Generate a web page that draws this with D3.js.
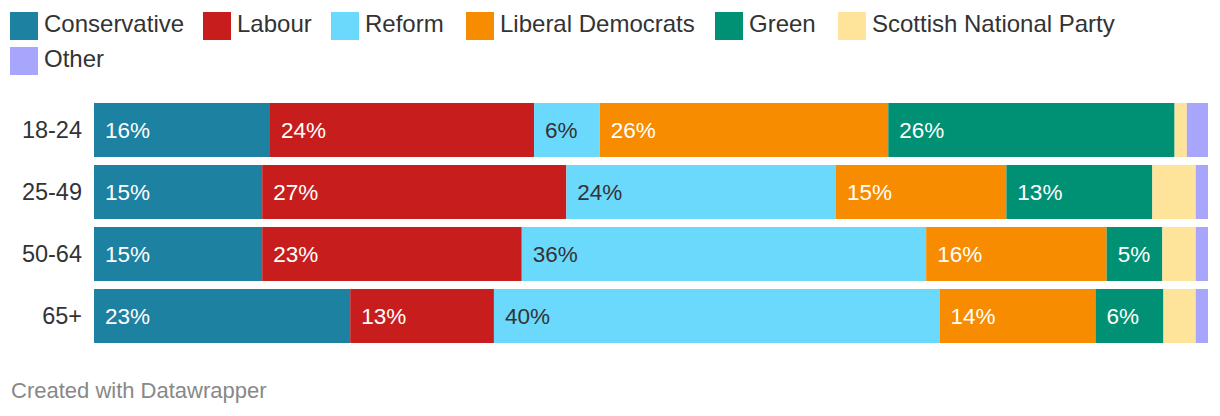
<!DOCTYPE html>
<html>
<head>
<meta charset="utf-8">
<script src="https://cdn.jsdelivr.net/npm/d3@7"></script>
<style>
  body { margin: 0; background: #fff; }
  svg { display: block; font-family: "Liberation Sans", Arial, Helvetica, sans-serif; }
</style>
</head>
<body>
<div id="chart"></div>
<script>
// age groups (rows)
const ageGroups = ["18-24", "25-49", "50-64", "65+"];
// parties in stack order
const parties = ["Conservative", "Labour", "Reform", "Liberal Democrats", "Green", "Scottish National Party", "Other"];
const partyColors = ["#1d81a2", "#c71e1d", "#6bd9fc", "#f88c00", "#009174", "#fee39b", "#a8a6fc"];
// share per party, one array per party, in the order of ageGroups
const conservative = [15.8, 15.1, 15.1, 23.0];
const labour = [23.7, 27.3, 23.3, 12.9];
const reform = [5.9, 24.2, 36.3, 40.0];
const libDems = [25.9, 15.3, 16.2, 14.0];
const green = [25.7, 13.1, 5.0, 6.1];
const snp = [1.1, 3.9, 3.0, 2.9];
const other = [1.9, 1.1, 1.1, 1.1];
const footer = "Created with Datawrapper";

// Sizes
let width = 1220;
let height = 416;
let margin = { top: 103, left: 94, right: 12, bottom: 73 };

// build rows for d3.stack
const seriesValues = [conservative, labour, reform, libDems, green, snp, other];
let rows = ageGroups.map(function (age, i) {
    let row = { age: age };
    parties.forEach(function (p, j) { row[p] = seriesValues[j][i]; });
    return row;
});

let svg = d3.select("#chart").append("svg")
    .attr("width", width)
    .attr("height", height);

// Legend
let legendX = [10, 203, 331, 466, 715, 838, 10];
let legendY = [12, 12, 12, 12, 12, 12, 47];
let legend = svg.append("g");
parties.forEach(function (p, i) {
    let item = legend.append("g").attr("transform", `translate(${legendX[i]}, ${legendY[i]})`);
    item.append("rect")
        .attr("width", 28)
        .attr("height", 28)
        .attr("fill", partyColors[i]);
    item.append("text")
        .attr("x", 34)
        .attr("y", 20)
        .style("font-size", "24px")
        .style("fill", "#333")
        .text(p);
});

// scales
const xScale = d3.scaleLinear()
    .domain([0, 100])
    .range([margin.left, width - margin.right]);

const yScale = d3.scaleBand()
    .domain(ageGroups)
    .range([margin.top, height - margin.bottom])
    .paddingInner(0.129)
    .paddingOuter(0);

const color = d3.scaleOrdinal().domain(parties).range(partyColors);

// y axis labels
let yAxis = svg.append("g")
    .attr("transform", `translate(${margin.left - 12}, 0)`)
    .call(d3.axisLeft(yScale).tickSize(0).tickPadding(0));
yAxis.select(".domain").remove();
yAxis.selectAll("text")
    .style("font-size", "23.5px")
    .style("font-family", "Liberation Sans, Arial, sans-serif")
    .style("fill", "#333");

// stacked bars
let stacked = d3.stack().keys(parties)(rows);

let layers = svg.selectAll(".layer").data(stacked).enter()
    .append("g")
    .attr("class", "layer")
    .attr("fill", function (d) { return color(d.key); });

layers.selectAll("rect").data(function (d) { return d; }).enter()
    .append("rect")
    .attr("x", function (d) { return xScale(d[0]); })
    .attr("y", function (d) { return yScale(d.data.age); })
    .attr("width", function (d) { return xScale(d[1]) - xScale(d[0]); })
    .attr("height", yScale.bandwidth());

// value labels, only where the segment is wide enough
layers.each(function (layer) {
    let darkText = layer.key == "Reform" || layer.key == "Scottish National Party";
    d3.select(this).selectAll("text").data(layer.filter(function (d) {
        return xScale(d[1]) - xScale(d[0]) > 50;
    })).enter()
        .append("text")
        .attr("x", function (d) { return xScale(d[0]) + 11; })
        .attr("y", function (d) { return yScale(d.data.age) + yScale.bandwidth() / 2; })
        .attr("dy", "0.35em")
        .style("font-size", "22.5px")
        .style("fill", darkText ? "#333" : "#fff")
        .text(function (d) { return Math.round(d[1] - d[0]) + "%"; });
});

// footer
svg.append("text")
    .attr("x", 11)
    .attr("y", 398)
    .style("font-size", "22px")
    .style("fill", "#888")
    .text(footer);
</script>
</body>
</html>
